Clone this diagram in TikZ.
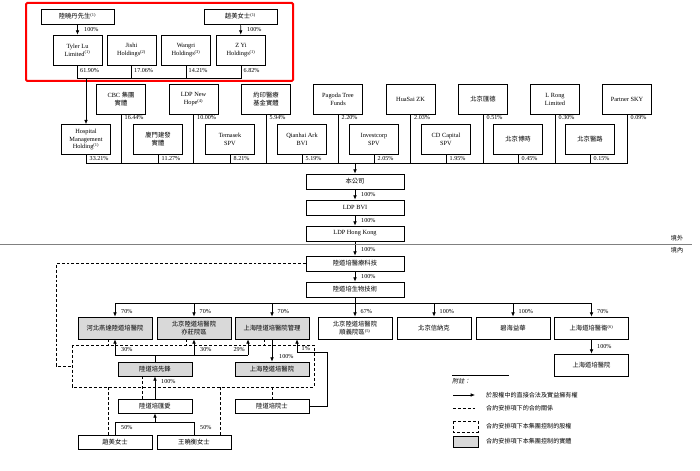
\documentclass[tikz,border=0pt]{standalone}
\usepackage{fontspec}
\setmainfont{Liberation Serif}
\newfontfamily\cjk{Noto Sans CJK TC}
\newfontfamily\cjkit[FakeSlant=0.2]{Noto Sans CJK TC}
\usetikzlibrary{arrows.meta,calc}

\newdimen\pxu
\pxu=0.3mm

\tikzset{
  box/.style={draw, line width=0.6pt, align=center, inner sep=0pt,
    font=\fontsize{5.4}{6.8}\selectfont},
  pbox/.style={box, minimum width=73\pxu, minimum height=15\pxu},
  hbox/.style={box, minimum width=49\pxu, minimum height=30\pxu},
  cbox/.style={box, minimum width=98\pxu, minimum height=15\pxu},
  sbox/.style={box, minimum width=74\pxu, minimum height=22\pxu},
  lbox/.style={box, minimum width=74\pxu, minimum height=14\pxu},
  ctrl/.style={fill=black!15},
  pct/.style={anchor=west, inner sep=0pt, font=\fontsize{5.2}{6}\selectfont},
  link/.style={line width=0.6pt},
  own/.style={link, -{Latex[length=1.3mm,width=1.1mm]}},
  deal/.style={link, dash pattern=on 2.5pt off 1.7pt},
}

\begin{document}
\begin{tikzpicture}[x=0.3mm,y=-0.3mm]  % 1 单位 = 参考图的 1 像素, y 向下

  % 画布大小与参考图一致
  \useasboundingbox (0,0) rectangle (700,471);

  % 红框:最上面一层股东
  \draw[red, line width=0.6mm, rounded corners=1pt] (26,3) rectangle (293,81);

  \node[pbox] (luxd)  at (77.5,16.5) {{\cjk 陸曉丹先生}\textsuperscript{(1)}};
  \node[pbox] (zhaom) at (240.5,16.5) {{\cjk 趙美女士}\textsuperscript{(1)}};

  \node[hbox] (tyler)  at (77.5,50) {Tyler Lu\\Limited\textsuperscript{(1)}};
  \node[hbox] (jishi)  at (131.5,50) {Jishi\\Holdings\textsuperscript{(2)}};
  \node[hbox] (wangri) at (186,50) {Wangri\\Holdings\textsuperscript{(3)}};
  \node[hbox] (zyi)    at (241,50) {Z Yi\\Holdings\textsuperscript{(1)}};

  \draw[own] (luxd) -- (tyler);
  \draw[own] (zhaom) -- (zyi);
  \node[pct] (q1) at (84,29.5) {100\%};
  \node[pct] (q2) at (247,29.5) {100\%};

  % 四家持股公司汇到一条横线
  \coordinate (topbus) at (0,78);
  \draw[link] (tyler.south) -- (tyler.south |- topbus) -- (zyi.south |- topbus) -- (zyi.south);
  \draw[link] (jishi.south) -- (jishi.south |- topbus);
  \draw[link] (wangri.south) -- (wangri.south |- topbus);
  \node[pct] (q3) at (80,71) {61.90\%};
  \node[pct] (q4) at (134,71) {17.06\%};
  \node[pct] (q5) at (188.5,71) {14.21\%};
  \node[pct] (q6) at (243.5,71) {6.82\%};

  % 第二排股东
  \node[hbox] (cbc)     at (121,99) {CBC {\cjk 集團}\\{\cjk 實體}};
  \node[hbox] (newhope) at (193.5,99) {LDP New\\Hope\textsuperscript{(4)}};
  \node[hbox] (yueyin)  at (266,99) {{\cjk 約印醫療}\\{\cjk 基金實體}};
  \node[hbox] (pagoda)  at (338,99) {Pagoda Tree\\Funds};
  \node[hbox] (huasai)  at (410.5,99) {HuaSai ZK};
  \node[hbox] (huide)   at (483,99) {{\cjk 北京匯德}};
  \node[hbox] (lrong)   at (555,99) {L Rong\\Limited};
  \node[hbox] (partner) at (627,99) {Partner SKY};

  % 第三排股东
  \node[hbox] (hosp)    at (86,139.5) {Hospital\\Management\\Holding\textsuperscript{(1)}};
  \node[hbox] (xiamen)  at (158,139.5) {{\cjk 廈門建發}\\{\cjk 實體}};
  \node[hbox] (temasek) at (230,139.5) {Temasek\\SPV};
  \node[hbox] (qianhai) at (302,139.5) {Qianhai Ark\\BVI};
  \node[hbox] (invest)  at (374,139.5) {Investcorp\\SPV};
  \node[hbox] (cdcap)   at (446,139.5) {CD Capital\\SPV};
  \node[hbox] (boshi)   at (518,139.5) {{\cjk 北京博時}};
  \node[hbox] (yilu)    at (590,139.5) {{\cjk 北京醫路}};

  \draw[own] (hosp.north |- topbus) -- (hosp.north);

  % 所有股东汇到本公司上方的横线
  \coordinate (midbus) at (0,163);
  \draw[link] (hosp.south) -- (hosp.south |- midbus) -- (partner.south |- midbus) -- (partner.south);
  \draw[link] (cbc.south) -- (cbc.south |- midbus);
  \draw[link] (newhope.south) -- (newhope.south |- midbus);
  \draw[link] (yueyin.south) -- (yueyin.south |- midbus);
  \draw[link] (pagoda.south) -- (pagoda.south |- midbus);
  \draw[link] (huasai.south) -- (huasai.south |- midbus);
  \draw[link] (huide.south) -- (huide.south |- midbus);
  \draw[link] (lrong.south) -- (lrong.south |- midbus);
  \draw[link] (xiamen.south) -- (xiamen.south |- midbus);
  \draw[link] (temasek.south) -- (temasek.south |- midbus);
  \draw[link] (qianhai.south) -- (qianhai.south |- midbus);
  \draw[link] (invest.south) -- (invest.south |- midbus);
  \draw[link] (cdcap.south) -- (cdcap.south |- midbus);
  \draw[link] (boshi.south) -- (boshi.south |- midbus);
  \draw[link] (yilu.south) -- (yilu.south |- midbus);

  \node[pct] (r1) at (124.5,118) {16.44\%};
  \node[pct] (r2) at (197,118) {10.00\%};
  \node[pct] (r3) at (269.5,118) {5.94\%};
  \node[pct] (r4) at (341.5,118) {2.20\%};
  \node[pct] (r5) at (414,118) {2.03\%};
  \node[pct] (r6) at (486.5,118) {0.51\%};
  \node[pct] (r7) at (558.5,118) {0.30\%};
  \node[pct] (r8) at (630.5,118) {0.09\%};
  \node[pct] (s1) at (89.5,159) {33.21\%};
  \node[pct] (s2) at (161.5,159) {11.27\%};
  \node[pct] (s3) at (233.5,159) {8.21\%};
  \node[pct] (s4) at (305.5,159) {5.19\%};
  \node[pct] (s5) at (377.5,159) {2.05\%};
  \node[pct] (s6) at (449.5,159) {1.95\%};
  \node[pct] (s7) at (521.5,159) {0.45\%};
  \node[pct] (s8) at (593.5,159) {0.15\%};

  % 中间一列
  \node[cbox] (company) at (355,181.5) {{\cjk 本公司}};
  \node[cbox] (ldpbvi)  at (355,207.5) {LDP BVI};
  \node[cbox] (ldphk)   at (355,233.5) {LDP Hong Kong};
  \node[cbox] (tech)    at (355,263.5) {{\cjk 陸道培醫療科技}};
  \node[cbox] (bio)     at (355,289.5) {{\cjk 陸道培生物技術}};

  \draw[own] (company.north |- midbus) -- (company.north);
  \draw[own] (company) -- (ldpbvi);
  \draw[own] (ldpbvi) -- (ldphk);
  \draw[own] (ldphk) -- (tech);
  \draw[own] (tech) -- (bio);
  \node[pct] (c1) at (361,194.5) {100\%};
  \node[pct] (c2) at (361,220.5) {100\%};
  \node[pct] (c3) at (361,250) {100\%};
  \node[pct] (c4) at (361,276.5) {100\%};

  % 境外 / 境内 分界线
  \draw[gray, line width=0.5pt] (0,244) -- (692,244);
  \node[pct, anchor=center, font=\cjk\fontsize{5.2}{6}\selectfont] (abroad) at (677,238.5) {境外};
  \node[pct, anchor=center, font=\cjk\fontsize{5.2}{6}\selectfont] (home)   at (677,250.5) {境內};

  % 境内子公司
  \node[sbox, ctrl] (hebei)    at (115,328) {{\cjk 河北燕達陸道培醫院}};
  \node[sbox, ctrl] (yizhuang) at (194,328) {{\cjk 北京陸道培醫院}\\{\cjk 亦莊院區}};
  \node[sbox, ctrl] (shmgmt)   at (272,328) {{\cjk 上海陸道培醫院管理}};
  \node[sbox] (shunyi)  at (355,328) {{\cjk 北京陸道培醫院}\\{\cjk 順義院區}\textsuperscript{(5)}};
  \node[sbox] (xinnake) at (434,328) {{\cjk 北京信納克}};
  \node[sbox] (bihai)   at (513,328) {{\cjk 碧海益華}};
  \node[sbox] (shyiwei) at (591.5,328) {{\cjk 上海道培醫衞}\textsuperscript{(6)}};
  \node[sbox] (shdp)    at (591.5,365) {{\cjk 上海道培醫院}};

  \coordinate (lowbus) at (0,303);
  \draw[link] (bio.south) -- (bio.south |- lowbus);
  \draw[link] (hebei.north |- lowbus) -- (shyiwei.north |- lowbus);
  \draw[own] (hebei.north |- lowbus) -- (hebei.north);
  \draw[own] (yizhuang.north |- lowbus) -- (yizhuang.north);
  \draw[own] (shmgmt.north |- lowbus) -- (shmgmt.north);
  \draw[own] (shunyi.north |- lowbus) -- (shunyi.north);
  \draw[own] (xinnake.north |- lowbus) -- (xinnake.north);
  \draw[own] (bihai.north |- lowbus) -- (bihai.north);
  \draw[own] (shyiwei.north |- lowbus) -- (shyiwei.north);
  \draw[own] (shyiwei) -- (shdp);
  \node[pct] (d1) at (121,312) {70\%};
  \node[pct] (d2) at (199.5,312) {70\%};
  \node[pct] (d3) at (277.5,312) {70\%};
  \node[pct] (d4) at (360.5,312) {67\%};
  \node[pct] (d5) at (439.5,312) {100\%};
  \node[pct] (d6) at (518.5,312) {100\%};
  \node[pct] (d7) at (597,312) {70\%};
  \node[pct] (d8) at (597,346.5) {100\%};

  % 合约安排下的实体
  \node[lbox, ctrl] (xianfeng) at (155,369) {{\cjk 陸道培先鋒}};
  \node[lbox, ctrl] (shhosp)   at (272,369) {{\cjk 上海陸道培醫院}};
  \node[lbox] (huiai)   at (155,406) {{\cjk 陸道培匯愛}};
  \node[lbox] (yuanshi) at (272,406) {{\cjk 陸道培院士}};
  \node[lbox] (zhaomei) at (115,442) {{\cjk 趙美女士}};
  \node[lbox] (wangxh)  at (194,442) {{\cjk 王曉衡女士}};

  % 虚线框:合约安排下控制的股权
  \coordinate (grpnw) at (72,345);
  \coordinate (grpse) at (314,387);
  \draw[deal] (grpnw) rectangle (grpse);

  \coordinate (ctrlbus) at (0,355);
  \coordinate (m29) at ([xshift=-24\pxu]shmgmt.south);
  \draw[link] (xianfeng.north) -- (xianfeng.north |- ctrlbus);
  \draw[link] (hebei.south |- ctrlbus) -- (m29 |- ctrlbus);
  \draw[own] (hebei.south |- ctrlbus) -- (hebei.south);
  \draw[own] (yizhuang.south |- ctrlbus) -- (yizhuang.south);
  \draw[own] (m29 |- ctrlbus) -- (m29);
  \node[pct] (e1) at (121,350) {30\%};
  \node[pct] (e2) at (200,350) {30\%};
  \node[pct, anchor=east] (e3) at (245,350) {29\%};

  \draw[own] (shmgmt) -- (shhosp);
  \node[pct] (e4) at (279,357) {100\%};

  % 院士持有的 1%
  \coordinate (m1) at ([xshift=25\pxu]shmgmt.south);
  \coordinate (turn1) at (327,352);
  \draw[own] (yuanshi.east) -| (turn1) -| (m1);
  \node[pct] (e5) at (301.5,349) {1\%};

  \draw[own] (huiai) -- (xianfeng);
  \node[pct] (e6) at (161,382) {100\%};

  \coordinate (famb) at (0,422);
  \draw[link] (zhaomei.north) -- (zhaomei.north |- famb) -- (wangxh.north |- famb) -- (wangxh.north);
  \draw[own] (huiai.south |- famb) -- (huiai.south);
  \node[pct] (e7) at (121,428) {50\%};
  \node[pct] (e8) at (200,428) {50\%};

  % 合约关系的虚线
  \coordinate (ldash) at (56,366);
  \draw[deal] (tech.west) -| (ldash) -- (ldash -| grpnw);
  \coordinate (k1) at ([xshift=-7\pxu]hebei.south);
  \coordinate (k2) at ([xshift=-8\pxu]yizhuang.south);
  \coordinate (k3) at ([xshift=-8\pxu]shmgmt.south);
  \coordinate (k4) at ([xshift=-7\pxu]zhaomei.north);
  \coordinate (k5) at ([xshift=26\pxu]wangxh.north);
  \coordinate (k6) at ([xshift=-13\pxu]xianfeng.south);
  \draw[deal] (k1) -- (k1 |- grpnw);
  \draw[deal] (k2) -- (k2 |- grpnw);
  \draw[deal] (k3) -- (k3 |- grpnw);
  \draw[deal] (k4) -- (k4 |- grpse);
  \draw[deal] (k5) -- (k5 |- grpse);
  \draw[deal] (k6) -- (k6 |- huiai.north);
  \draw[deal] (yuanshi.north |- grpse) -- (yuanshi.north);

  % 附注 (图例)
  \draw[line width=0.5pt] (452,375) -- (509,375);
  \node[pct, font=\cjkit\fontsize{5.2}{6}\selectfont] (note) at (452,381) {附註：};

  \coordinate (g1a) at (453,395);
  \coordinate (g1b) at (475,395);
  \draw[own] (g1a) -- (g1b);
  \node[pct, font=\cjk\fontsize{5.2}{6}\selectfont] (g1) at (486,395) {於股權中的直接合法及實益擁有權};

  \coordinate (g2a) at (453,408);
  \coordinate (g2b) at (475,408);
  \draw[deal] (g2a) -- (g2b);
  \node[pct, font=\cjk\fontsize{5.2}{6}\selectfont] (g2) at (486,408) {合約安排項下的合約關係};

  \coordinate (g3a) at (453,421);
  \coordinate (g3b) at (478,432);
  \draw[deal] (g3a) rectangle (g3b);
  \node[pct, font=\cjk\fontsize{5.2}{6}\selectfont] (g3) at (486,426.5) {合約安排項下本集團控制的股權};

  \coordinate (g4a) at (453,436);
  \coordinate (g4b) at (478,447);
  \draw[link, fill=black!15] (g4a) rectangle (g4b);
  \node[pct, font=\cjk\fontsize{5.2}{6}\selectfont] (g4) at (486,441.5) {合約安排項下本集團控制的實體};

\end{tikzpicture}
\end{document}
